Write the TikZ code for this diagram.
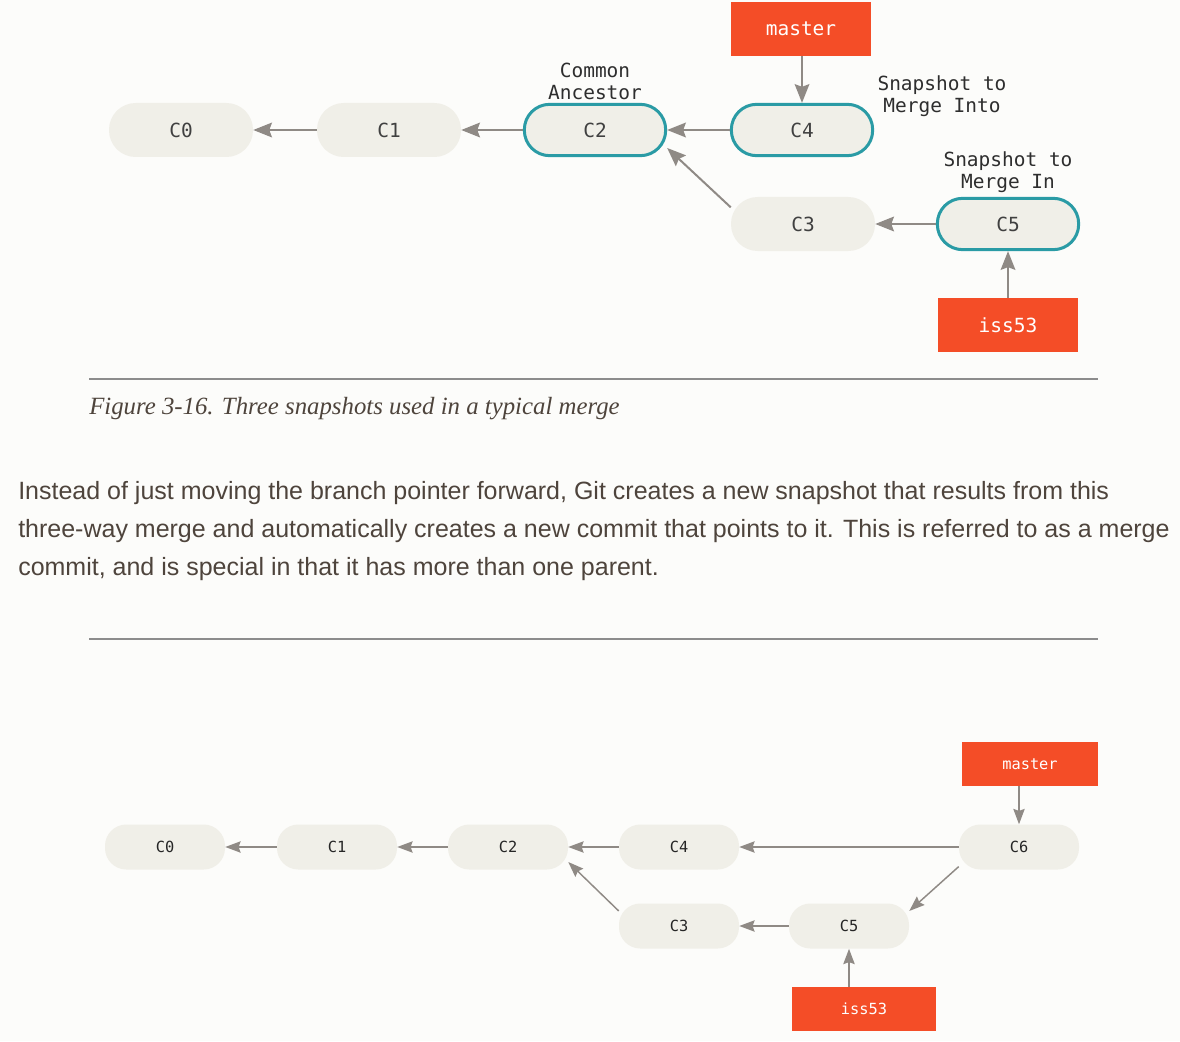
\documentclass[tikz,border=0pt]{standalone}
\usepackage{fontspec}
\setmainfont{Liberation Sans}
\setmonofont{DejaVu Sans Mono}
\newfontfamily\captionfont{Liberation Serif}
\usetikzlibrary{arrows.meta}
\definecolor{gitred}{HTML}{F44D27}
\definecolor{gitteal}{HTML}{2A9BA5}
\definecolor{commitfill}{HTML}{F0EFE8}
\definecolor{arrowgrey}{HTML}{8F8A85}
\definecolor{inkbrown}{HTML}{4E443C}
\definecolor{pagebg}{HTML}{FCFCFA}

\begin{document}
\begin{tikzpicture}[x=0.75pt, y=-0.75pt,
    commit/.style={rectangle, rounded corners=20pt, fill=commitfill, inner sep=0pt,
        minimum width=108pt, minimum height=40.5pt, text=black!75,
        font=\ttfamily\fontsize{14.6}{16.5}\selectfont},
    snapshot/.style={commit, draw=gitteal, line width=2.25pt, rounded corners=19pt,
        minimum width=106pt, minimum height=38.5pt},
    branch/.style={rectangle, fill=gitred, text=white, inner sep=0pt,
        minimum width=105pt, minimum height=40.5pt,
        font=\ttfamily\fontsize{14.6}{16.5}\selectfont},
    smallcommit/.style={commit, rounded corners=16pt, minimum width=90pt,
        minimum height=33.75pt, text=black!85,
        font=\ttfamily\fontsize{11.5}{13}\selectfont},
    smallbranch/.style={branch, minimum height=33pt,
        font=\ttfamily\fontsize{11.5}{13}\selectfont},
    parent/.style={draw=arrowgrey, line width=1.5pt,
        -{Stealth[length=14pt, width=11pt, inset=2pt]}},
    smallparent/.style={draw=arrowgrey, line width=1.1pt,
        -{Stealth[length=11.5pt, width=8.5pt, inset=1.5pt]}},
    note/.style={align=center, inner sep=0pt, text=black!82,
        font=\ttfamily\fontsize{14.6}{16.5}\selectfont},
    para/.style={anchor=base west, inner sep=0pt, text=inkbrown,
        font=\fontsize{18.75}{28.5}\selectfont},
    rule/.style={draw=black!45, line width=0.8pt}
]
    \fill[pagebg] (0,0) rectangle (1180,1041);
    \useasboundingbox (0,0) rectangle (1180,1041);

    % Three snapshots: commits and branches
    \foreach \n/\x/\y in {0/181/130, 1/389/130, 3/803/224}
        \node[commit] (t\n) at (\x,\y) {C\n};
    \foreach \n/\x/\y in {2/595/130, 4/802/130, 5/1008/224}
        \node[snapshot] (t\n) at (\x,\y) {C\n};
    \node[branch] (tmaster) at (801,29) {master};
    \node[branch] (tiss) at (1008,325) {iss53};

    \node[note] (tancestor) at (595,81) {Common\\Ancestor};
    \node[note] (tinto) at (942,96) {Snapshot to\\Merge Into};
    \node[note] (tin) at (1008,172) {Snapshot to\\Merge In};

    \foreach \a/\b in {1/0, 2/1, 4/2, 5/3}
        \draw[parent] (t\a) -- (t\b);
    \draw[parent] (t3.167) -- (t2.-14);
    \draw[parent] (tmaster.south -| t4) -- (t4);
    \draw[parent] (tiss) -- (t5);

    % Caption and text
    \draw[rule] (89,379) -- (1098,379);
    \node[anchor=base west, inner sep=0pt, text=inkbrown,
        font=\captionfont\itshape\fontsize{18.6}{22}\selectfont] (caption) at (89,414)
        {Figure 3-16. Three snapshots used in a typical merge};

    \node[para] (line1) at (18,499) {Instead of just moving the branch pointer forward, Git creates a new snapshot that results from this};
    \node[para] (line2) at (18,537) {three-way merge and automatically creates a new commit that points to it. This is referred to as a merge};
    \node[para] (line3) at (18,575) {commit, and is special in that it has more than one parent.};

    \draw[rule] (89,639) -- (1098,639);

    % Merge commit
    \foreach \n/\x/\y in {0/165/847, 1/337/847, 2/508/847, 4/679/847, 6/1019/847, 3/679/926, 5/849/926}
        \node[smallcommit] (b\n) at (\x,\y) {C\n};
    \node[smallbranch, minimum width=102pt] (bmaster) at (1030,764) {master};
    \node[smallbranch, minimum width=108pt] (biss) at (864,1009) {iss53};

    \foreach \a/\b in {1/0, 2/1, 4/2, 6/4, 5/3}
        \draw[smallparent] (b\a) -- (b\b);
    \draw[smallparent] (b3.166) -- (b2.-14);
    \draw[smallparent] (b6.198) -- (b5.14);
    \draw[smallparent] (bmaster.south -| b6) -- (b6);
    \draw[smallparent] (biss.north -| b5) -- (b5);
\end{tikzpicture}
\end{document}
